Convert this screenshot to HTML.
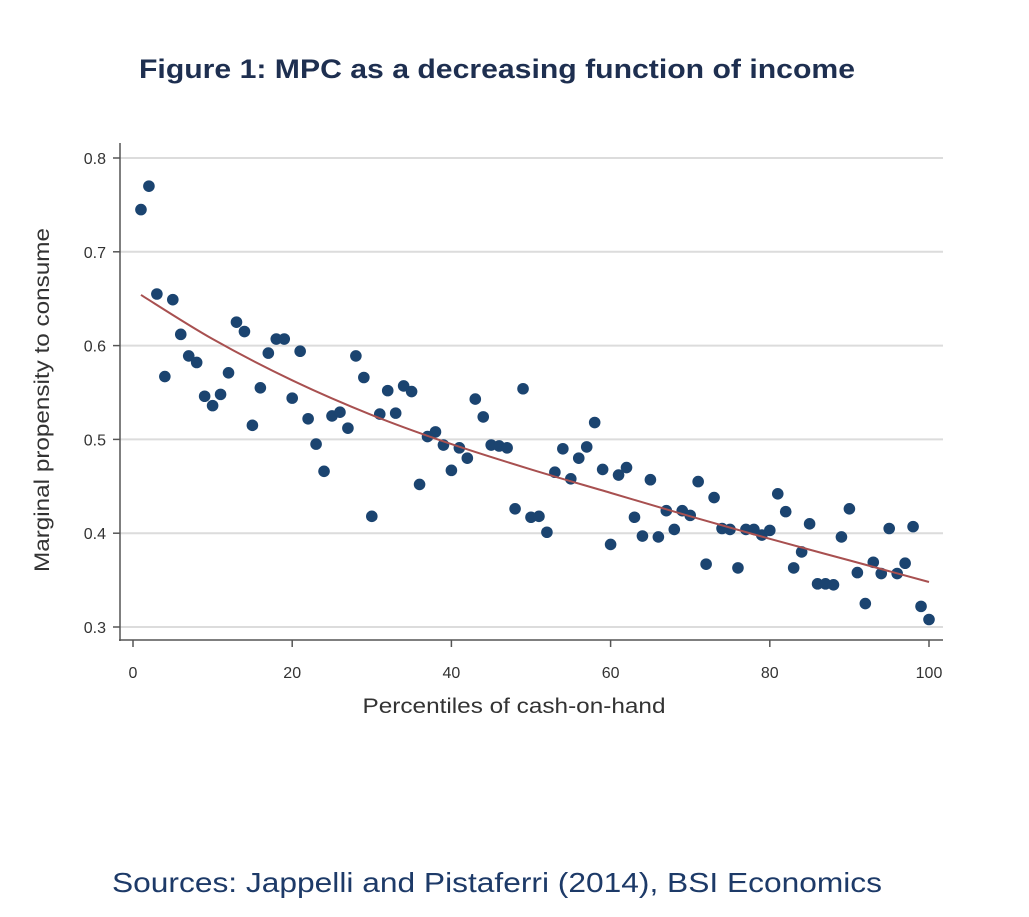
<!DOCTYPE html>
<html><head><meta charset="utf-8"><style>
body{margin:0;background:#fff;width:1029px;height:912px;overflow:hidden;font-family:"Liberation Sans",sans-serif}
</style></head><body>
<svg width="1029" height="912">
<text x="497" y="78" text-anchor="middle" font-size="27" font-weight="bold" fill="#1e2f50" textLength="716" lengthAdjust="spacingAndGlyphs">Figure 1: MPC as a decreasing function of income</text>
<g id="plot"></g>
<text x="497" y="892" text-anchor="middle" font-size="28" fill="#1d3a68" textLength="770" lengthAdjust="spacingAndGlyphs">Sources: Jappelli and Pistaferri (2014), BSI Economics</text>
</svg>
<script>
const xTicks=[0,20,40,60,80,100];
const yTicks=[0.3,0.4,0.5,0.6,0.7,0.8];
const mpc=[0.745,0.77,0.655,0.567,0.649,0.612,0.589,0.582,0.546,0.536,0.548,0.571,0.625,0.615,0.515,0.555,0.592,0.607,0.607,0.544,0.594,0.522,0.495,0.466,0.525,0.529,0.512,0.589,0.566,0.418,0.527,0.552,0.528,0.557,0.551,0.452,0.503,0.508,0.494,0.467,0.491,0.480,0.543,0.524,0.494,0.493,0.491,0.426,0.554,0.417,0.418,0.401,0.465,0.490,0.458,0.480,0.492,0.518,0.468,0.388,0.462,0.470,0.417,0.397,0.457,0.396,0.424,0.404,0.424,0.419,0.455,0.367,0.438,0.405,0.404,0.363,0.404,0.404,0.398,0.403,0.442,0.423,0.363,0.380,0.410,0.346,0.346,0.345,0.396,0.426,0.358,0.325,0.369,0.357,0.405,0.357,0.368,0.407,0.322,0.308];
const fitX=[1,10,20,30,40,50,60,70,80,90,100];
const fitY=[0.654,0.607,0.563,0.526,0.495,0.468,0.443,0.418,0.394,0.371,0.348];
const NS='http://www.w3.org/2000/svg';
const g=document.getElementById('plot');
const sx=v=>133+v*7.96;
const sy=v=>158+(0.8-v)*938;
function mk(t,a){const e=document.createElementNS(NS,t);for(const k in a)e.setAttribute(k,a[k]);g.appendChild(e);return e;}
yTicks.forEach(t=>{
 const l=mk('line',{x1:120,x2:943,y1:sy(t),y2:sy(t),stroke:'#dcdcdc','stroke-width':2});
 
 
 mk('line',{x1:113,x2:120,y1:sy(t),y2:sy(t),stroke:'#555','stroke-width':1.5});
 const tx=mk('text',{x:106,y:sy(t)+6,'text-anchor':'end','font-size':16,fill:'#333'});
 tx.textContent=t.toFixed(1);
 
 
});
xTicks.forEach(t=>{
 mk('line',{x1:sx(t),x2:sx(t),y1:640,y2:647,stroke:'#555','stroke-width':1.5});
 const tx=mk('text',{x:sx(t),y:678,'text-anchor':'middle','font-size':16,fill:'#333'});
 tx.textContent=t;
 
 
});
const ya=mk('line',{x1:120,x2:120,y1:143,y2:641,stroke:'#555','stroke-width':1.5});


const xa=mk('line',{x1:119,x2:943,y1:640,y2:640,stroke:'#555','stroke-width':1.5});


const xt=mk('text',{x:514,y:713,'text-anchor':'middle','font-size':21,fill:'#333',textLength:303,lengthAdjust:'spacingAndGlyphs'});
xt.textContent='Percentiles of cash-on-hand';


const yt=mk('text',{x:0,y:0,'text-anchor':'middle','font-size':21,fill:'#333',textLength:344,lengthAdjust:'spacingAndGlyphs',transform:'translate(49,400) rotate(-90)'});
yt.textContent='Marginal propensity to consume';


mpc.forEach((v,i)=>{
 const c=mk('circle',{cx:sx(i+1),cy:sy(v),r:5.8,fill:'#1b4470'});
 
 
});
const P=fitX.map((x,i)=>[sx(x),sy(fitY[i])]);
let d='M'+P[0][0]+','+P[0][1];
for(let i=0;i<P.length-1;i++){
 const p0=P[i-1]||P[i],p1=P[i],p2=P[i+1],p3=P[i+2]||P[i+1];
 const c1=[p1[0]+(p2[0]-p0[0])/6,p1[1]+(p2[1]-p0[1])/6];
 const c2=[p2[0]-(p3[0]-p1[0])/6,p2[1]-(p3[1]-p1[1])/6];
 d+=' C'+c1+' '+c2+' '+p2;
}
const fl=mk('path',{d:d,fill:'none',stroke:'#a85050','stroke-width':2});


</script>
</body></html>
